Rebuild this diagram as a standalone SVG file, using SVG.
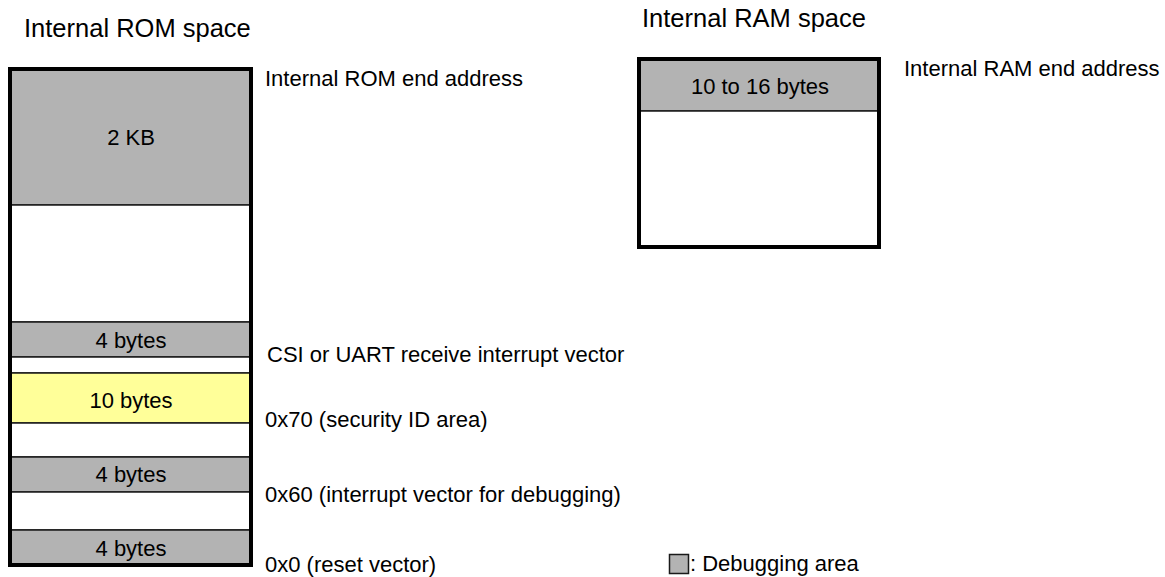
<svg xmlns="http://www.w3.org/2000/svg" width="1165" height="577" viewBox="0 0 1165 577">
<style>
text{font-family:"Liberation Sans",Arial,sans-serif;fill:#000}
.t{font-size:25.5px}
.l{font-size:22px}
.c{font-size:22px;text-anchor:middle}
.g{fill:#b3b3b3;stroke:#1a1a1a;stroke-width:1.5}
.w{fill:#fff;stroke:#1a1a1a;stroke-width:1.5}
.y{fill:#ffff99;stroke:#1a1a1a;stroke-width:1.5}
.o{fill:none;stroke:#000;stroke-width:4}
</style>
<rect width="1165" height="577" fill="#fff"/>
<text class="t" x="24" y="36.5">Internal ROM space</text>
<text class="t" x="642" y="26.5">Internal RAM space</text>
<g id="rom">
<rect class="g" x="10" y="69" width="241" height="136"/>
<rect class="w" x="10" y="205" width="241" height="117"/>
<rect class="g" x="10" y="322" width="241" height="35"/>
<rect class="w" x="10" y="357" width="241" height="16"/>
<rect class="y" x="10" y="373" width="241" height="50"/>
<rect class="w" x="10" y="423" width="241" height="34"/>
<rect class="g" x="10" y="457" width="241" height="35"/>
<rect class="w" x="10" y="492" width="241" height="38"/>
<rect class="g" x="10" y="530" width="241" height="35"/>
<rect class="o" x="10" y="69" width="241" height="496"/>
<text class="c" x="131" y="145">2 KB</text>
<text class="c" x="131" y="348">4 bytes</text>
<text class="c" x="131" y="408">10 bytes</text>
<text class="c" x="131" y="482">4 bytes</text>
<text class="c" x="131" y="556">4 bytes</text>
</g>
<g id="ram">
<rect class="g" x="639" y="59" width="240" height="52"/>
<rect class="w" x="639" y="111" width="240" height="136"/>
<rect class="o" x="639" y="59" width="240" height="188"/>
<text class="c" x="760" y="94">10 to 16 bytes</text>
</g>
<g id="labels">
<text class="l" x="265" y="86">Internal ROM end address</text>
<text class="l" x="904" y="76">Internal RAM end address</text>
<text class="l" x="267" y="361.5">CSI or UART receive interrupt vector</text>
<text class="l" x="265" y="426.5">0x70 (security ID area)</text>
<text class="l" x="265" y="501.5">0x60 (interrupt vector for debugging)</text>
<text class="l" x="265" y="571.5">0x0 (reset vector)</text>
</g>
<g id="legend">
<rect class="g" x="669.5" y="554.5" width="19" height="19"/>
<text class="l" x="690" y="571">: Debugging area</text>
</g>
</svg>
